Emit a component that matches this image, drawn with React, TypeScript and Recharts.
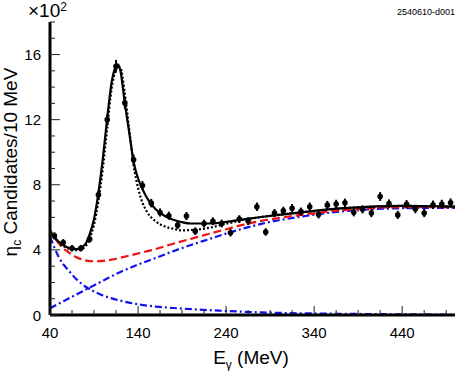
import { ComposedChart, Line, Scatter, ErrorBar, XAxis, YAxis } from 'recharts'

// measured bins (x 10^2 candidates / 10 MeV)
const BIN_E = [45, 55, 65, 75, 85, 95, 105, 115, 125, 135, 145, 155, 165, 175, 185, 195, 205, 215, 225, 235,
  245, 255, 265, 275, 285, 295, 305, 315, 325, 335, 345, 355, 365, 375, 385, 395, 405, 415, 425, 435,
  445, 455, 465, 475, 485, 495]
const COUNTS = [4.86, 4.45, 4.1, 4.1, 4.66, 7.38, 12.0, 15.28, 13.03, 9.54, 7.95, 6.87, 6.3, 6.1, 5.52, 6.08, 5.15, 5.62, 5.76, 5.62,
  5.05, 5.89, 5.77, 6.65, 5.1, 6.26, 6.4, 6.56, 6.35, 6.65, 6.18, 6.75, 6.82, 6.89, 6.31, 6.49, 6.26, 7.28, 6.84, 6.15,
  6.8, 6.51, 6.26, 6.77, 6.82, 6.9]
const ERRS = [0.22, 0.21, 0.2, 0.2, 0.22, 0.27, 0.35, 0.39, 0.36, 0.31, 0.28, 0.26, 0.25, 0.25, 0.24, 0.25, 0.23, 0.24, 0.24, 0.24,
  0.23, 0.24, 0.24, 0.26, 0.23, 0.25, 0.25, 0.26, 0.25, 0.26, 0.25, 0.26, 0.26, 0.26, 0.25, 0.25, 0.25, 0.27, 0.26, 0.25,
  0.26, 0.26, 0.25, 0.26, 0.26, 0.26]

// fit curves
const FIT_E = [40, 50, 60, 70, 80, 85, 90, 95, 100, 105, 110, 115, 117, 120, 125, 130, 135, 140, 145, 150,
  160, 170, 180, 190, 200, 220, 240, 260, 280, 300, 330, 360, 400, 440, 480, 500]
const TOTAL_FIT = [5.12, 4.5, 4.15, 4.05, 4.35, 4.95, 5.9, 7.5, 9.6, 12.1, 14.3, 15.3, 15.4, 15.0, 13.0, 11.2, 9.4, 8.4, 7.75, 7.2,
  6.5, 6.1, 5.85, 5.7, 5.62, 5.62, 5.72, 5.88, 6.02, 6.15, 6.33, 6.5, 6.64, 6.7, 6.68, 6.66]
const ALT_FIT = [5.1, 4.45, 4.1, 3.98, 4.2, 4.7, 5.55, 7.0, 9.0, 11.5, 13.9, 15.1, 15.28, 15.2, 13.6, 11.4, 9.2, 7.8, 6.9, 6.35,
  5.75, 5.45, 5.3, 5.2, 5.22, 5.35, 5.6, 5.85, 6.02, 6.15, 6.33, 6.5, 6.64, 6.7, 6.68, 6.66]

// background components
const BG_E = [40, 45, 50, 55, 60, 70, 80, 90, 100, 110, 120, 140, 160, 180, 200, 220, 240, 260, 280, 300,
  330, 360, 400, 440, 480, 500]
const BG_TOTAL = [5.23, 4.78, 4.4, 4.1, 3.9, 3.55, 3.36, 3.3, 3.32, 3.4, 3.52, 3.78, 4.05, 4.38, 4.68, 4.98, 5.27, 5.55, 5.78, 5.96,
  6.18, 6.38, 6.55, 6.62, 6.62, 6.61]
const BG_RISE = [0.41, 0.55, 0.7, 0.84, 0.98, 1.26, 1.54, 1.82, 2.1, 2.38, 2.64, 3.1, 3.5, 3.92, 4.3, 4.65, 5.0, 5.32, 5.6, 5.82,
  6.08, 6.3, 6.48, 6.56, 6.58, 6.58]
const BG_FALL = [4.8, 4.15, 3.55, 3.12, 2.8, 2.2, 1.75, 1.45, 1.2, 1.02, 0.88, 0.66, 0.52, 0.43, 0.36, 0.3, 0.25, 0.2, 0.16, 0.13,
  0.1, 0.08, 0.06, 0.04, 0.03, 0.02]

const X_TICKS = [40, 65, 90, 115, 140, 165, 190, 215, 240, 265, 290, 315, 340, 365, 390, 415, 440, 465, 490]
const X_LABELS = [40, 140, 240, 340, 440]
const Y_TICKS = [0, 1, 2, 3, 4, 5, 6, 7, 8, 9, 10, 11, 12, 13, 14, 15, 16, 17, 18]
const Y_LABELS = [0, 4, 8, 12, 16]

const W = 457
const H = 371
const LEFT = 50
const RIGHT = 455
const TOP = 22
const BOTTOM = 315
const FONT = '"Liberation Sans", Arial, Helvetica, sans-serif'

const points = BIN_E.map((e, i) => ({ e, n: COUNTS[i], err: ERRS[i] }))
const fitData = FIT_E.map((e, i) => ({ e, total: TOTAL_FIT[i], alt: ALT_FIT[i] }))
const bgData = BG_E.map((e, i) => ({ e, bg: BG_TOTAL[i], rise: BG_RISE[i], fall: BG_FALL[i] }))

const BottomTick = (props: any) => {
  const { x, payload } = props
  const major = X_LABELS.includes(payload.value)
  return (
    <g>
      <line x1={x} x2={x} y1={BOTTOM} y2={BOTTOM - (major ? 9 : 5)} stroke="#222" strokeWidth={1} />
      {major && (
        <text x={x} y={BOTTOM + 23} textAnchor="middle" fontSize={15} fontFamily={FONT} fill="#000">
          {payload.value}
        </text>
      )}
    </g>
  )
}

const TopTick = (props: any) => {
  const { x, payload } = props
  const major = X_LABELS.includes(payload.value)
  return <line x1={x} x2={x} y1={TOP} y2={TOP + (major ? 9 : 5)} stroke="#222" strokeWidth={1} />
}

const LeftTick = (props: any) => {
  const { y, payload } = props
  const major = Y_LABELS.includes(payload.value)
  return (
    <g>
      <line x1={LEFT} x2={LEFT + (major ? 10 : 5)} y1={y} y2={y} stroke="#222" strokeWidth={1} />
      {major && (
        <text x={LEFT - 9} y={y + 5.5} textAnchor="end" fontSize={15} fontFamily={FONT} fill="#000">
          {payload.value}
        </text>
      )}
    </g>
  )
}

const RightTick = (props: any) => {
  const { y, payload } = props
  const major = Y_LABELS.includes(payload.value)
  return <line x1={RIGHT} x2={RIGHT - (major ? 10 : 5)} y1={y} y2={y} stroke="#222" strokeWidth={1} />
}

const Dot = (props: any) => <circle cx={props.cx} cy={props.cy} r={2.8} fill="#000" />

export default function App() {
  return (
    <div style={{ position: 'absolute', left: 0, top: 0, width: W, height: H, background: '#fff' }}>
      <ComposedChart width={W} height={H} margin={{ top: TOP, right: W - RIGHT, bottom: 0, left: 0 }}>
        <XAxis xAxisId="b" dataKey="e" type="number" domain={[40, 500]} ticks={X_TICKS} interval={0}
          allowDataOverflow height={H - BOTTOM} tickLine={false} tick={<BottomTick />}
          axisLine={{ stroke: '#000', strokeWidth: 3 }} />
        <XAxis xAxisId="t" orientation="top" dataKey="e" type="number" domain={[40, 500]} ticks={X_TICKS}
          interval={0} allowDataOverflow height={0} tickLine={false} tick={<TopTick />}
          axisLine={{ stroke: '#000', strokeWidth: 3 }} />
        <YAxis yAxisId="l" type="number" domain={[0, 18]} ticks={Y_TICKS} interval={0} allowDataOverflow
          width={LEFT} tickLine={false} tick={<LeftTick />} axisLine={{ stroke: '#000', strokeWidth: 3 }} />
        <YAxis yAxisId="r" orientation="right" type="number" domain={[0, 18]} ticks={Y_TICKS} interval={0}
          allowDataOverflow width={0} tickLine={false} tick={<RightTick />}
          axisLine={{ stroke: '#000', strokeWidth: 3 }} />

        <Line xAxisId="b" yAxisId="l" data={bgData} dataKey="fall" type="monotone" stroke="#1010f0"
          strokeWidth={2.2} strokeDasharray="7 3 2 3" dot={false} activeDot={false} isAnimationActive={false} />
        <Line xAxisId="b" yAxisId="l" data={bgData} dataKey="rise" type="monotone" stroke="#1010f0"
          strokeWidth={2.2} strokeDasharray="7 3 2 3" dot={false} activeDot={false} isAnimationActive={false} />
        <Line xAxisId="b" yAxisId="l" data={bgData} dataKey="bg" type="monotone" stroke="#f01010"
          strokeWidth={2.2} strokeDasharray="8 4" dot={false} activeDot={false} isAnimationActive={false} />
        <Line xAxisId="b" yAxisId="l" data={fitData} dataKey="alt" type="monotone" stroke="#000"
          strokeWidth={2.2} strokeDasharray="2 2" dot={false} activeDot={false} isAnimationActive={false} />
        <Line xAxisId="b" yAxisId="l" data={fitData} dataKey="total" type="monotone" stroke="#000"
          strokeWidth={2.2} dot={false} activeDot={false} isAnimationActive={false} />
        <Scatter xAxisId="b" yAxisId="l" data={points} dataKey="n" shape={<Dot />} isAnimationActive={false}>
          <ErrorBar dataKey="err" direction="y" width={0} stroke="#000" strokeWidth={2} />
        </Scatter>
      </ComposedChart>

      <svg width={W} height={H} style={{ position: 'absolute', left: 0, top: 0, pointerEvents: 'none' }}>
        <text x={28} y={17} fontSize={19} fontFamily={FONT} fill="#000">
          ×10<tspan fontSize={12} dy={-6}>2</tspan>
        </text>
        <text x={455} y={15} textAnchor="end" fontSize={9} fontFamily={FONT} fill="#000">2540610-d001</text>
        <text x={251} y={364} textAnchor="middle" fontSize={19} fontFamily={FONT} fill="#000">
          E<tspan fontSize={12} dy={5}>γ</tspan><tspan dy={-5}> (MeV)</tspan>
        </text>
        <text transform="translate(17,162) rotate(-90)" textAnchor="middle" fontSize={19} fontFamily={FONT} fill="#000">
          η<tspan fontSize={12} dy={4}>c</tspan><tspan dy={-4}> Candidates/10 MeV</tspan>
        </text>
      </svg>
    </div>
  )
}
